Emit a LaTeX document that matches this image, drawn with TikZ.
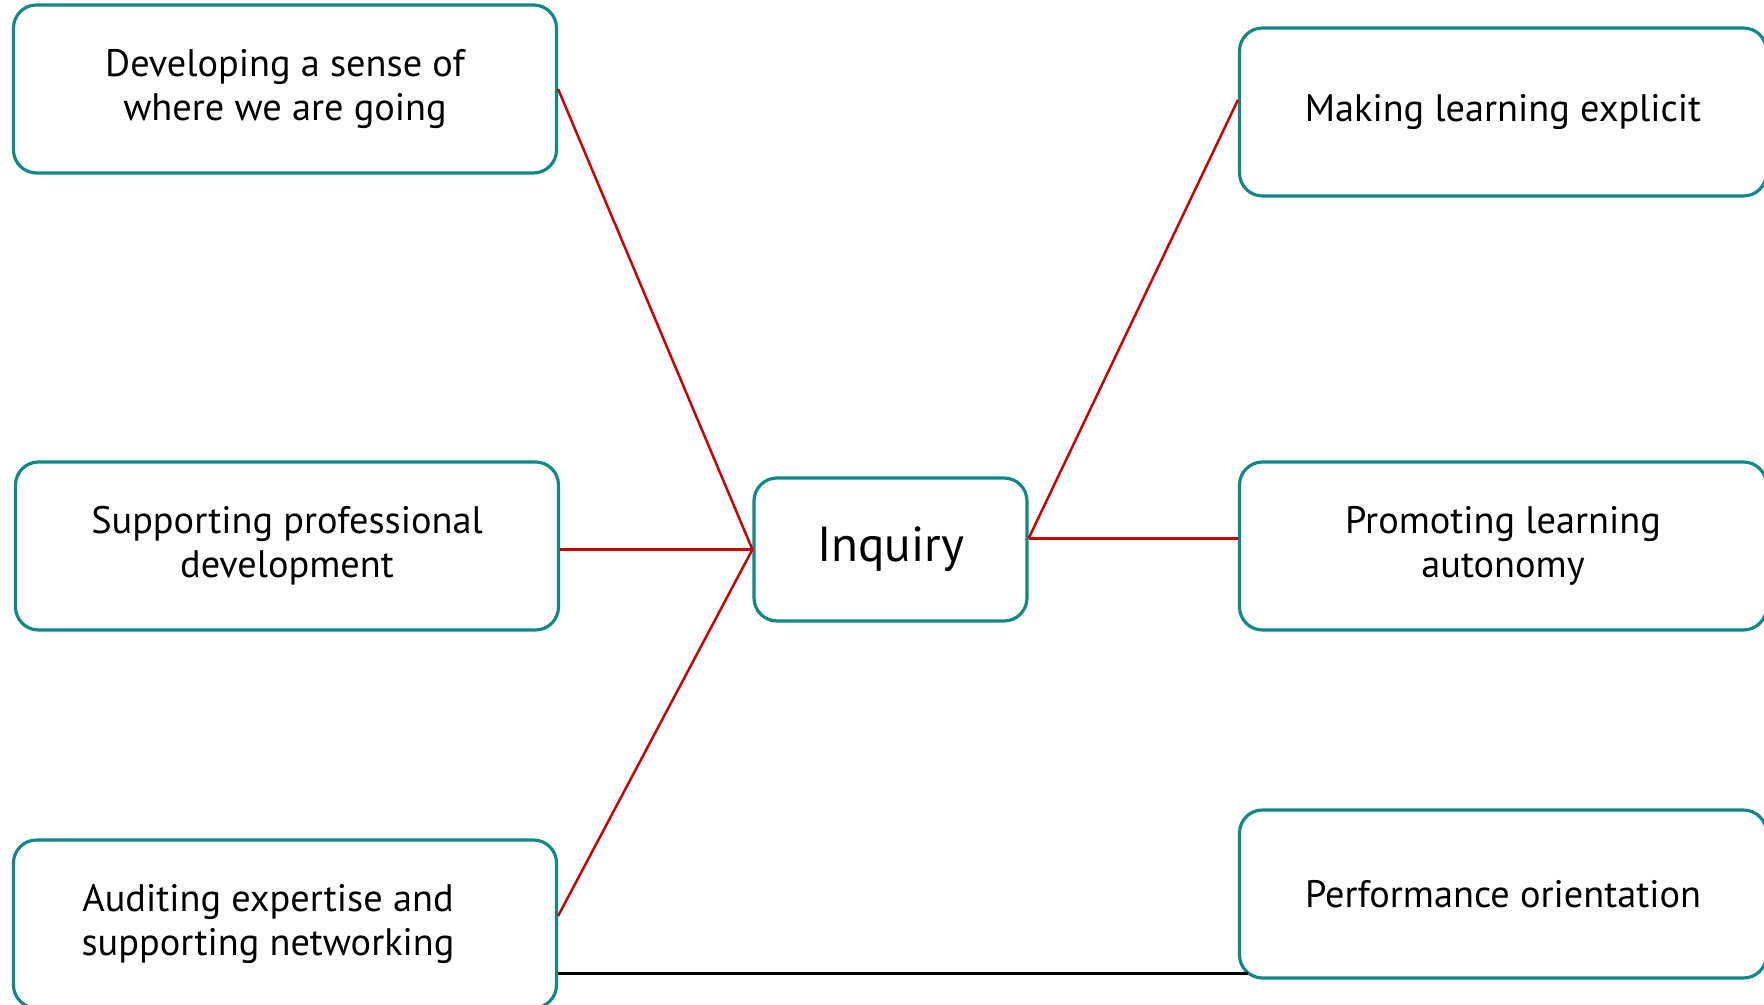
\documentclass[tikz,border=0pt]{standalone}
\usepackage{fontspec}
\setmainfont{PT Sans}
\usetikzlibrary{positioning}
\definecolor{boxteal}{RGB}{16,136,136}
\definecolor{linkred}{RGB}{204,0,0}
\tikzset{
    topic/.style={draw=boxteal, line width=0.9pt, rounded corners=2.3mm, align=center,
        minimum width=5.43cm, minimum height=1.68cm, font=\fontsize{10.9}{12.6}\selectfont},
    link/.style={draw=linkred, line width=0.7pt}
}

\begin{document}
\begin{tikzpicture}
        \useasboundingbox (0, 0) rectangle (17.64, 10.05);
        \node[topic] (LT) at (2.85, 9.16) {Developing a sense of\\where we are going}; 
        \node[topic] (LM) at (2.87, 4.59) {Supporting professional\\development}; 
        \node[topic] (LB) at (2.85, 0.81) {Auditing expertise and\hspace*{3.4mm}\\supporting networking\hspace*{3.4mm}}; 
        \node[topic, minimum width=2.73cm, minimum height=1.43cm, font=\fontsize{14}{16}\selectfont] (C) at (8.905, 4.555) {Inquiry}; 
        \node[topic, minimum width=5.27cm] (RT) at (15.03, 8.93) {Making learning explicit}; 
        \node[topic, minimum width=5.27cm] (RM) at (15.03, 4.59) {Promoting learning\\autonomy}; 
        \node[topic, minimum width=5.27cm] (RB) at (15.03, 1.11) {Performance orientation}; 
        \coordinate (H) at ([yshift=1.1mm]C.east); 
        \coordinate (E) at ([xshift=1mm, yshift=0.6mm]RB.south west); 
        \draw [link] (LT.east) -- (C.west); 
        \draw [link] (LM.east |- C.west) -- (C.west); 
        \draw [link] ([yshift=0.8mm]LB.east) -- (C.west); 
        \draw [link] (H) -- ([yshift=1.2mm]RT.west); 
        \draw [link] (H) -- (H -| RM.west); 
        \draw [line width=0.9pt] (LB.east |- E) -- (E); 
\end{tikzpicture}
\end{document}
